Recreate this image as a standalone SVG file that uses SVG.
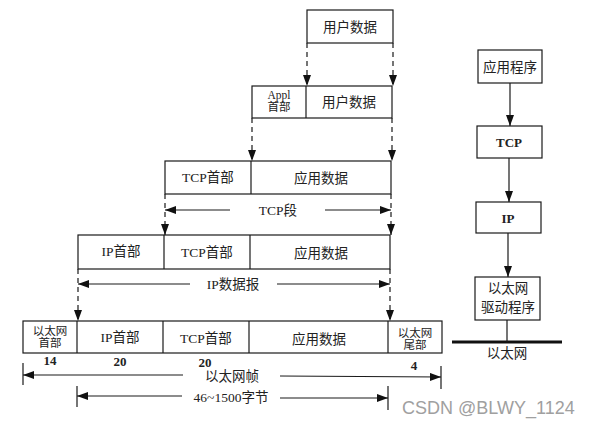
<svg xmlns="http://www.w3.org/2000/svg" width="591" height="427" viewBox="0 0 591 427">
<style>
.box{fill:#fff;stroke:#1a1a1a;stroke-width:1.2}
.ln{stroke:#1a1a1a;stroke-width:1.2;fill:none}
.dash{stroke:#1a1a1a;stroke-width:1.2;fill:none;stroke-dasharray:5 4}
.t{font-family:"Liberation Serif","Noto Sans CJK SC",serif;font-size:13.5px;fill:#222;text-anchor:middle;dominant-baseline:central}
.s{font-size:11.5px}
.b{font-weight:bold;font-size:13px}
.wm{font-family:"Liberation Sans","DejaVu Sans",sans-serif;font-size:18px;fill:#a0a0a0;text-anchor:start;dominant-baseline:central}
</style>
<defs>
<marker id="ah" viewBox="0 0 11 8" refX="11" refY="4" markerWidth="11" markerHeight="8" markerUnits="userSpaceOnUse" orient="auto">
<path d="M0,0 L11,4 L0,8 Z" fill="#111"/>
</marker>
</defs>
<rect width="591" height="427" fill="#fff"/>

<g id="row1">
<rect class="box" x="307" y="10" width="86" height="33"/>
<text class="t" x="350" y="27">用户数据</text>
</g>

<g id="row2">
<rect class="box" x="252" y="86" width="140" height="32"/>
<line class="ln" x1="306" y1="86" x2="306" y2="118"/>
<text class="t s" x="279" y="95">Appl</text>
<text class="t s" x="279" y="107">首部</text>
<text class="t" x="349" y="102">用户数据</text>
</g>

<g id="row3">
<rect class="box" x="165" y="161" width="226" height="33"/>
<line class="ln" x1="251" y1="161" x2="251" y2="194"/>
<text class="t" x="208" y="177">TCP首部</text>
<text class="t" x="321" y="178">应用数据</text>
</g>

<g id="row4">
<rect class="box" x="78" y="235" width="312" height="34"/>
<line class="ln" x1="164" y1="235" x2="164" y2="269"/>
<line class="ln" x1="250" y1="235" x2="250" y2="269"/>
<text class="t" x="121" y="251">IP首部</text>
<text class="t" x="207" y="252">TCP首部</text>
<text class="t" x="321" y="253">应用数据</text>
</g>

<g id="row5">
<rect class="box" x="23" y="321" width="419" height="32"/>
<line class="ln" x1="77" y1="321" x2="77" y2="353"/>
<line class="ln" x1="163" y1="321" x2="163" y2="353"/>
<line class="ln" x1="249" y1="321" x2="249" y2="353"/>
<line class="ln" x1="388" y1="321" x2="388" y2="353"/>
<text class="t s" x="50" y="331">以太网</text>
<text class="t s" x="50" y="343">首部</text>
<text class="t" x="120" y="337">IP首部</text>
<text class="t" x="206" y="338">TCP首部</text>
<text class="t" x="319" y="339">应用数据</text>
<text class="t s" x="415" y="333">以太网</text>
<text class="t s" x="415" y="345">尾部</text>
<text class="t b" x="50" y="360">14</text>
<text class="t b" x="120" y="361">20</text>
<text class="t b" x="205" y="362">20</text>
<text class="t b" x="414" y="365">4</text>
</g>

<g id="stack">
<g id="app"><rect class="box" x="478" y="50" width="64" height="33"/><text class="t" x="510" y="67">应用程序</text></g>
<g id="tcp"><rect class="box" x="477" y="126" width="65" height="32"/><text class="t b" x="509" y="142">TCP</text></g>
<g id="ip"><rect class="box" x="476" y="202" width="65" height="31"/><text class="t b" x="508" y="218">IP</text></g>
<g id="drv"><rect class="box" x="475" y="277" width="65" height="43"/><text class="t" x="508" y="288">以太网</text><text class="t" x="508" y="307">驱动程序</text></g>
<g id="eth"><line x1="452" y1="342" x2="562" y2="342" stroke="#111" stroke-width="3"/><text class="t" x="507" y="353">以太网</text></g>
</g>

<g id="connectors">
<line class="dash" x1="307" y1="43" x2="307" y2="86" marker-end="url(#ah)"/>
<line class="dash" x1="393" y1="43" x2="393" y2="86" marker-end="url(#ah)"/>
<line class="dash" x1="252" y1="118" x2="252" y2="161" marker-end="url(#ah)"/>
<line class="dash" x1="392" y1="118" x2="392" y2="161" marker-end="url(#ah)"/>
<line class="dash" x1="165" y1="194" x2="165" y2="235" marker-end="url(#ah)"/>
<line class="dash" x1="391" y1="194" x2="391" y2="235" marker-end="url(#ah)"/>
<line class="dash" x1="78" y1="269" x2="78" y2="321" marker-end="url(#ah)"/>
<line class="dash" x1="390" y1="269" x2="390" y2="321" marker-end="url(#ah)"/>

<line class="ln" x1="230" y1="210" x2="165" y2="210" marker-end="url(#ah)"/>
<line class="ln" x1="325" y1="210" x2="391" y2="210" marker-end="url(#ah)"/>
<text class="t" x="278" y="210">TCP段</text>

<line class="ln" x1="190" y1="284" x2="78" y2="284" marker-end="url(#ah)"/>
<line class="ln" x1="277" y1="284" x2="390" y2="284" marker-end="url(#ah)"/>
<text class="t" x="233" y="284">IP数据报</text>

<line class="ln" x1="23" y1="363" x2="23" y2="385"/>
<line class="ln" x1="441" y1="366" x2="441" y2="389"/>
<line class="ln" x1="183" y1="375" x2="23" y2="375" marker-end="url(#ah)"/>
<line class="ln" x1="280" y1="376" x2="441" y2="377" marker-end="url(#ah)"/>
<text class="t" x="232" y="376">以太网帧</text>

<line class="ln" x1="77" y1="386" x2="77" y2="407"/>
<line class="ln" x1="388" y1="386" x2="388" y2="410"/>
<line class="ln" x1="182" y1="396" x2="77" y2="396" marker-end="url(#ah)"/>
<line class="ln" x1="280" y1="398" x2="388" y2="398" marker-end="url(#ah)"/>
<text class="t" x="231" y="397">46~1500字节</text>

<line class="ln" x1="510" y1="83" x2="510" y2="126" marker-end="url(#ah)"/>
<line class="ln" x1="509" y1="158" x2="509" y2="202" marker-end="url(#ah)"/>
<line class="ln" x1="508" y1="233" x2="508" y2="277" marker-end="url(#ah)"/>
<line class="ln" x1="507" y1="320" x2="507" y2="342"/>
</g>

<text class="wm" x="402" y="408">CSDN @BLWY_1124</text>
</svg>
